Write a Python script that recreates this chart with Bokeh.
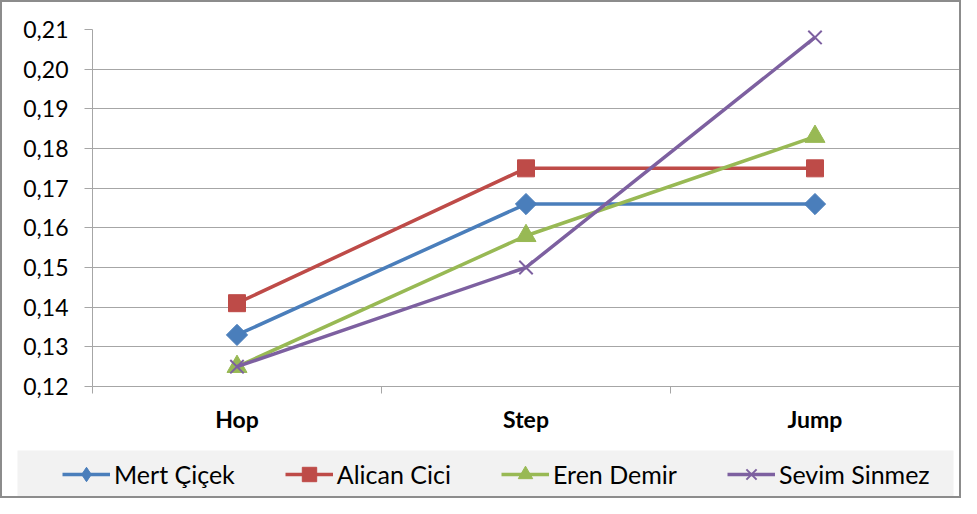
from bokeh.plotting import figure
from bokeh.layouts import column
from bokeh.models import (FixedTicker, CustomJSTickFormatter, Legend, LegendItem)
from bokeh.embed import file_html
from bokeh.resources import INLINE
import math

categories = ["Hop", "Step", "Jump"]
series_names = ["Mert Çiçek", "Alican Cici", "Eren Demir", "Sevim Sinmez"]
mert = [0.133, 0.166, 0.166]
alican = [0.141, 0.175, 0.175]
eren = [0.125, 0.158, 0.183]
sevim = [0.125, 0.150, 0.208]
y_ticks = [0.12, 0.13, 0.14, 0.15, 0.16, 0.17, 0.18, 0.19, 0.20, 0.21]

colors = ["#4A7EBB", "#BE4B48", "#98B954", "#7D60A0"]
FONT = "Lato"
GRID = "#a6a6a6"

x = [i + 0.5 for i in range(len(categories))]
bounds = [i for i in range(len(categories) + 1)]

W = 957
p = figure(width=W, height=445, x_range=(0, len(categories)),
           y_range=(y_ticks[0], y_ticks[-1]),
           output_backend="svg", toolbar_location=None,
           min_border_left=90, min_border_top=27, min_border_right=0,
           min_border_bottom=61)
p.frame_align = False
p.outline_line_color = None
p.background_fill_color = "white"
p.border_fill_color = "white"

# axes
p.xaxis.ticker = FixedTicker(ticks=x, minor_ticks=bounds)
p.xaxis.formatter = CustomJSTickFormatter(args=dict(labels=categories),
                                          code="return labels[Math.floor(tick)];")
p.xaxis.major_tick_line_color = None
p.xaxis.major_tick_out = 0
p.xaxis.major_tick_in = 0
p.xaxis.minor_tick_out = 7
p.xaxis.minor_tick_in = 0
p.xaxis.minor_tick_line_color = GRID
p.xaxis.axis_line_color = GRID
p.xaxis.major_label_text_font = FONT
p.xaxis.major_label_text_font_style = "bold"
p.xaxis.major_label_text_font_size = "23px"
p.xaxis.major_label_text_color = "#000000"
p.xaxis.major_label_standoff = 11

p.yaxis.ticker = FixedTicker(ticks=y_ticks, minor_ticks=[])
p.yaxis.formatter = CustomJSTickFormatter(code="return tick.toFixed(2).replace('.', ',');")
p.yaxis.major_tick_out = 8
p.yaxis.major_tick_in = 0
p.yaxis.major_tick_line_color = GRID
p.yaxis.minor_tick_line_color = None
p.yaxis.axis_line_color = GRID
p.yaxis.major_label_text_font = FONT
p.yaxis.major_label_text_font_size = "23px"
p.yaxis.major_label_text_color = "#000000"
p.yaxis.major_label_standoff = 16

p.xgrid.grid_line_color = None
p.ygrid.grid_line_color = GRID
p.ygrid.grid_line_width = 1

# legend strip: a small figure with grey background; its y range lies below
# the data, so the key renderers are clipped away and only the legend shows
q = figure(width=W, height=49, x_range=(0, len(categories)), y_range=(0, 0.1),
           output_backend="svg", toolbar_location=None,
           min_border_left=15, min_border_right=6, min_border_top=3,
           min_border_bottom=0, x_axis_location=None, y_axis_location=None)
q.frame_align = False
q.outline_line_color = None
q.background_fill_color = "#f2f2f2"
q.border_fill_color = "white"
q.grid.visible = False

series = [mert, alican, eren, sevim]
marker_specs = [
    dict(marker="square", legend_marker="diamond", size=15, angle=math.pi / 4, lw=1),
    dict(marker="square", legend_marker="square", size=17, angle=0, lw=1),
    dict(marker="triangle", legend_marker="triangle", size=20, angle=0, lw=1),
    dict(marker="x", legend_marker="x", size=19, angle=0, lw=2),
]
items = []
for vals, name, col, spec in zip(series, series_names, colors, marker_specs):
    p.line(x, vals, line_color=col, line_width=3.5)
    p.scatter(x, vals, marker=spec["marker"], size=spec["size"],
              angle=spec["angle"], fill_color=col, line_color=col,
              line_width=spec["lw"])
    kl = q.line(x, vals, line_color=col, line_width=3.5)
    km = q.scatter(x, vals, marker=spec["legend_marker"], fill_color=col,
                   line_color=col, line_width=spec["lw"])
    items.append(LegendItem(label=name, renderers=[kl, km]))

legend = Legend(items=items, orientation="horizontal", location=(45, 4),
                background_fill_alpha=0, border_line_color=None,
                label_text_font=FONT, label_text_font_size="25px",
                label_text_color="#000000",
                glyph_width=48, glyph_height=36, spacing=50,
                label_standoff=4, padding=0, margin=0)
q.add_layout(legend)

layout = column(p, q, spacing=0,
                styles={"border": "2px solid #8c8c8c"})

open("out.html", "w").write(file_html(layout, INLINE))
